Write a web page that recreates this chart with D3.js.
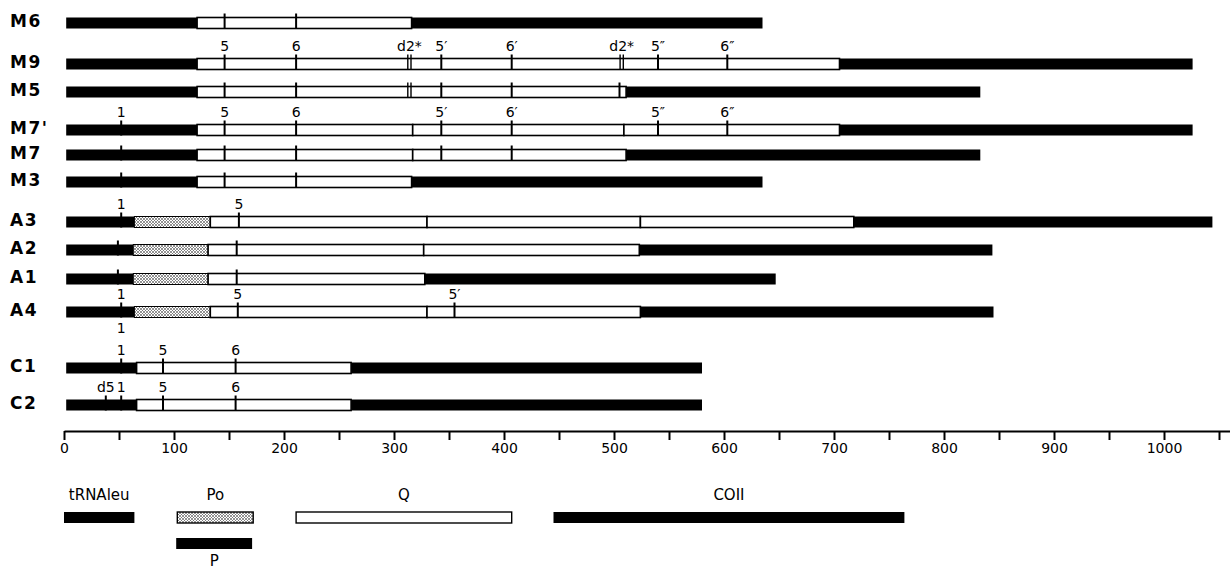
<!DOCTYPE html>
<html lang="en">
<head>
<meta charset="UTF-8">
<title>tRNAleu - COII intergenic region</title>
<script src="https://d3js.org/d3.v7.min.js"></script>
<style>
    body { margin: 0; background: #fff; }
    svg { display: block; font-family: "DejaVu Sans", sans-serif; }
    .row-label { font-size: 17px; font-weight: bold; letter-spacing: 1.5px; }
    .site-label { font-size: 14px; }
    .legend-label { font-size: 15px; }
    .axis text { font-size: 14px; font-family: "DejaVu Sans", sans-serif; }
</style>
</head>
<body>
<svg id="chart" width="1230" height="569"></svg>
<script>
// haplotypes, top to bottom
var rows = ["M6", "M9", "M5", "M7'", "M7", "M3", "A3", "A2", "A1", "A4", "C1", "C2"];

// [row, start, end, element]  (bp)
var segments = [
    ["M6", 2, 121, "P"], ["M6", 121, 316, "Q"], ["M6", 316, 635, "COII"],
    ["M9", 2, 121, "P"], ["M9", 121, 705, "Q"], ["M9", 705, 1026, "COII"],
    ["M5", 2, 121, "P"], ["M5", 121, 511, "Q"], ["M5", 511, 833, "COII"],
    ["M7'", 2, 121, "P"], ["M7'", 121, 317, "Q"], ["M7'", 317, 509, "Q"], ["M7'", 509, 705, "Q"], ["M7'", 705, 1026, "COII"],
    ["M7", 2, 121, "P"], ["M7", 121, 317, "Q"], ["M7", 317, 511, "Q"], ["M7", 511, 833, "COII"],
    ["M3", 2, 121, "P"], ["M3", 121, 316, "Q"], ["M3", 316, 635, "COII"],
    ["A3", 2, 64, "tRNAleu"], ["A3", 64, 133, "Po"], ["A3", 133, 330, "Q"], ["A3", 330, 524, "Q"], ["A3", 524, 718, "Q"], ["A3", 718, 1044, "COII"],
    ["A2", 2, 63, "tRNAleu"], ["A2", 63, 131, "Po"], ["A2", 131, 327, "Q"], ["A2", 327, 523, "Q"], ["A2", 523, 844, "COII"],
    ["A1", 2, 63, "tRNAleu"], ["A1", 63, 131, "Po"], ["A1", 131, 328, "Q"], ["A1", 328, 647, "COII"],
    ["A4", 2, 64, "tRNAleu"], ["A4", 64, 133, "Po"], ["A4", 133, 330, "Q"], ["A4", 330, 524, "Q"], ["A4", 524, 845, "COII"],
    ["C1", 2, 66, "tRNAleu"], ["C1", 66, 261, "Q"], ["C1", 261, 580, "COII"],
    ["C2", 2, 66, "tRNAleu"], ["C2", 66, 261, "Q"], ["C2", 261, 580, "COII"]
];

// [row, position, label, mark]  s = single tick, d = double tick
var sites = [
    ["M6", 146, "", "s"], ["M6", 211, "", "s"],
    ["M9", 146, "5", "s"], ["M9", 211, "6", "s"], ["M9", 314, "d2*", "d"], ["M9", 343, "5′", "s"],
    ["M9", 407, "6′", "s"], ["M9", 507, "d2*", "d"], ["M9", 540, "5″", "s"], ["M9", 603, "6″", "s"],
    ["M5", 146, "", "s"], ["M5", 211, "", "s"], ["M5", 314, "", "d"], ["M5", 343, "", "s"], ["M5", 407, "", "s"], ["M5", 505, "", "s"],
    ["M7'", 52, "1", "s"], ["M7'", 146, "5", "s"], ["M7'", 211, "6", "s"], ["M7'", 343, "5′", "s"],
    ["M7'", 407, "6′", "s"], ["M7'", 540, "5″", "s"], ["M7'", 603, "6″", "s"],
    ["M7", 52, "", "s"], ["M7", 146, "", "s"], ["M7", 211, "", "s"], ["M7", 343, "", "s"], ["M7", 407, "", "s"],
    ["M3", 52, "", "s"], ["M3", 146, "", "s"], ["M3", 211, "", "s"],
    ["A3", 52, "1", "s"], ["A3", 159, "5", "s"],
    ["A2", 49, "", "s"], ["A2", 157, "", "s"],
    ["A1", 49, "", "s"], ["A1", 157, "", "s"],
    ["A4", 52, "1", "s"], ["A4", 158, "5", "s"], ["A4", 355, "5′", "s"],
    ["C1", 52, "1", "s"], ["C1", 90, "5", "s"], ["C1", 156, "6", "s"],
    ["C2", 38, "d5", "s"], ["C2", 52, "1", "s"], ["C2", 90, "5", "s"], ["C2", 156, "6", "s"]
];

// labels written under a bar
var belowLabels = [["A4", 52, "1"]];

// legend: [element, length in bp]
var legendItems = [["tRNAleu", 64], ["Po", 69], ["Q", 196], ["COII", 319], ["P", 69]];

var axisTicks = d3.range(0, 1051, 50);

var svg = d3.select("#chart");

var x = d3.scaleLinear().domain([0, 1060]).range([64, 1230]);

// vertical layout of the rows (irregular, leaves room for site labels)
var y = d3.scaleOrdinal()
    .domain(rows)
    .range([23, 64, 92, 130, 155, 182, 222, 250, 279, 312, 368, 405]);

var barH = 11;

var defs = svg.append("defs");
var pat = defs.append("pattern")
    .attr("id", "hatch")
    .attr("patternUnits", "userSpaceOnUse")
    .attr("width", 3)
    .attr("height", 3);
pat.append("rect").attr("width", 3).attr("height", 3).attr("fill", "#fff");
pat.append("path")
    .attr("d", "M0,0 L3,3 M3,0 L0,3")
    .attr("stroke", "#666")
    .attr("stroke-width", 0.7);

function fillFor(type) {
    if (type === "Q") return "#fff";
    if (type === "Po") return "url(#hatch)";
    return "#000";
}

// row labels
svg.selectAll(".row-label")
    .data(rows)
    .enter().append("text")
    .attr("class", "row-label")
    .attr("x", 10)
    .attr("y", function(d) { return y(d) - 2; })
    .attr("dy", "0.35em")
    .text(function(d) { return d; });

// bar segments
svg.selectAll(".seg")
    .data(segments)
    .enter().append("rect")
    .attr("class", "seg")
    .attr("x", function(d) { return x(d[1]); })
    .attr("y", function(d) { return y(d[0]) - barH / 2; })
    .attr("width", function(d) { return x(d[2]) - x(d[1]); })
    .attr("height", barH)
    .attr("fill", function(d) { return fillFor(d[3]); })
    .attr("stroke", function(d) { return d[3] === "Q" || d[3] === "Po" ? "#000" : "none"; })
    .attr("stroke-width", function(d) { return d[3] === "Q" ? 1.6 : 1; });

// restriction sites
var siteG = svg.append("g");
sites.forEach(function(s) {
    var cx = x(s[1]), cy = y(s[0]);
    var offs = s[3] === "d" ? [-1.6, 1.6] : [0];
    offs.forEach(function(o) {
        siteG.append("line")
            .attr("x1", cx + o).attr("x2", cx + o)
            .attr("y1", cy - barH / 2 - 4)
            .attr("y2", cy + barH / 2)
            .attr("stroke", "#000")
            .attr("stroke-width", s[3] === "d" ? 1.4 : 2);
    });
    if (s[2]) {
        siteG.append("text")
            .attr("class", "site-label")
            .attr("x", cx)
            .attr("y", cy - barH / 2 - 8)
            .attr("text-anchor", "middle")
            .text(s[2]);
    }
});

belowLabels.forEach(function(s) {
    siteG.append("text")
        .attr("class", "site-label")
        .attr("x", x(s[1]))
        .attr("y", y(s[0]) + barH / 2 + 15)
        .attr("text-anchor", "middle")
        .text(s[2]);
});

// scale axis
var axis = d3.axisBottom(x)
    .tickValues(axisTicks)
    .tickSize(9)
    .tickSizeOuter(0)
    .tickFormat(function(d) { return d % 100 === 0 ? d : ""; });

svg.append("g")
    .attr("class", "axis")
    .attr("transform", "translate(0,431)")
    .call(axis)
    .call(function(g) {
        g.select(".domain").attr("stroke-width", 2);
        g.selectAll(".tick line").attr("stroke-width", 2);
    });

// legend (bar lengths drawn on the same bp scale)
var legendStart = [0, 103, 211, 445, 102];
var legendRow = [0, 0, 0, 0, 1];
var legend = svg.append("g");
legendItems.forEach(function(d, i) {
    var x0 = x(legendStart[i]), x1 = x(legendStart[i] + d[1]);
    var by = legendRow[i] === 0 ? 512 : 538;
    legend.append("rect")
        .attr("x", x0)
        .attr("y", by)
        .attr("width", x1 - x0)
        .attr("height", barH)
        .attr("fill", fillFor(d[0]))
        .attr("stroke", d[0] === "Q" || d[0] === "Po" ? "#000" : "none")
        .attr("stroke-width", 1.4);
    legend.append("text")
        .attr("class", "legend-label")
        .attr("x", (x0 + x1) / 2)
        .attr("y", legendRow[i] === 0 ? by - 12 : by + barH + 17)
        .attr("text-anchor", "middle")
        .text(d[0]);
});
</script>
</body>
</html>
